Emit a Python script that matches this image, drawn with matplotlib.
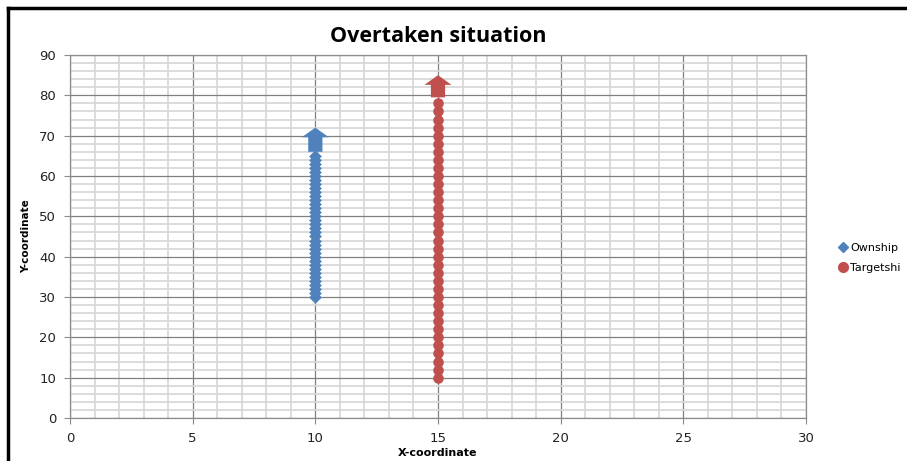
import numpy as np
import matplotlib
matplotlib.use("Agg")
import matplotlib.pyplot as plt
from matplotlib.lines import Line2D
from matplotlib.ticker import MultipleLocator

# Data
own_x = [10] * 36
own_y = list(range(30, 66))          # 30..65 step 1
tgt_x = [15] * 35
tgt_y = list(range(10, 79, 2))       # 10..78 step 2
series_names = ["Ownship", "Targetshi"]
title = "Overtaken situation"
xlabel = "X-coordinate"
ylabel = "Y-coordinate"

BLUE = "#4F81BD"
RED = "#C0504D"

fig = plt.figure(figsize=(9.07, 4.61), dpi=100)
ax = fig.add_axes([70/907, 1-418/461, (806-70)/907, (418-55)/461])

ax.set_xlim(0, 30)
ax.set_ylim(0, 90)
ax.xaxis.set_major_locator(MultipleLocator(5))
ax.xaxis.set_minor_locator(MultipleLocator(1))
ax.yaxis.set_major_locator(MultipleLocator(10))
ax.yaxis.set_minor_locator(MultipleLocator(2))
ax.grid(which="minor", color="#D6D6D6", linewidth=1.2, zorder=0)
ax.grid(which="major", color="#808080", linewidth=0.9, zorder=0)
ax.set_axisbelow(True)
for s in ax.spines.values():
    s.set_color("#8C8C8C")
    s.set_linewidth(0.9)
ax.tick_params(which="major", length=4, color="#8C8C8C", labelsize=9.5,
               labelcolor="#222222", pad=6)
ax.tick_params(which="minor", length=0)

ax.scatter(own_x, own_y, marker="D", s=42, color=BLUE, zorder=3,
           linewidths=0, label=series_names[0])
ax.scatter(tgt_x, tgt_y, marker="o", s=58, color=RED, zorder=3,
           linewidths=0, label=series_names[1])

# Direction arrows above the last point of each series
for xs, ys, c, gap in [(own_x, own_y, BLUE, 1.0), (tgt_x, tgt_y, RED, 1.5)]:
    x0, y0 = xs[-1], ys[-1] + gap
    ax.arrow(x0, y0, 0, 6.6 - gap + 0.4, width=0.58, head_width=1.1,
             head_length=2.4, length_includes_head=True, color=c,
             linewidth=0, zorder=4)

ax.set_title(title, fontsize=15.5, fontweight="bold", family="Open Sans", pad=9)
ax.set_xlabel(xlabel, fontsize=8, fontweight="bold", labelpad=2)
ax.set_ylabel(ylabel, fontsize=7.5, fontweight="bold", labelpad=6)

handles = [Line2D([], [], marker="D", color=BLUE, linestyle="", markersize=5),
           Line2D([], [], marker="o", color=RED, linestyle="", markersize=7)]
fig.legend(handles, series_names, loc="upper left",
           bbox_to_anchor=(826/907, 1-233/461), frameon=False, fontsize=8,
           handletextpad=0.1, labelspacing=0.9, handlelength=1.2)

# Figure border (top and left visible)
fig.add_artist(Line2D([8/907, 8/907], [0, 1-8/461], transform=fig.transFigure,
                      color="black", linewidth=2.5))
fig.add_artist(Line2D([8/907, 1], [1-8/461, 1-8/461], transform=fig.transFigure,
                      color="black", linewidth=2.5))

fig.savefig("out.png", dpi=100, facecolor="white")
